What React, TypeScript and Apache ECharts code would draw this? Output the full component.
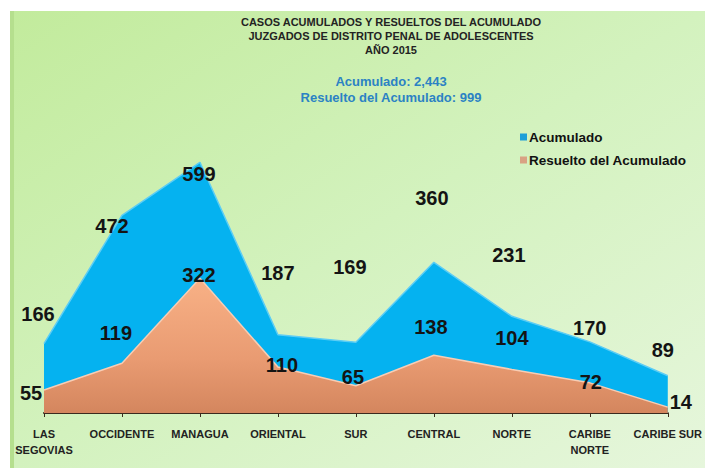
import React, { useEffect, useRef } from "react";
import * as echarts from "echarts";

const categories = [
  "LAS\nSEGOVIAS",
  "OCCIDENTE",
  "MANAGUA",
  "ORIENTAL",
  "SUR",
  "CENTRAL",
  "NORTE",
  "CARIBE\nNORTE",
  "CARIBE SUR",
];
const acumulado = [166, 472, 599, 187, 169, 360, 231, 170, 89];
const resuelto = [55, 119, 322, 110, 65, 138, 104, 72, 14];

const titleLines = [
  "CASOS ACUMULADOS Y RESUELTOS DEL ACUMULADO",
  "JUZGADOS DE DISTRITO PENAL DE ADOLESCENTES",
  "AÑO 2015",
];
const subtitleLines = ["Acumulado: 2,443", "Resuelto del Acumulado: 999"];

// label offsets (styling, in px) for the manually placed data labels
const acuLabelOffsets = [
  [-6, -30], [-10, 11], [-1, 12], [0, -62], [-6, -75], [-2, -64], [-3, -61], [0, -14], [-5, -26],
];
const resLabelOffsets = [
  [-13, 3], [-6, -30], [-1, -3], [4, -2], [-3, -9], [-3, -28], [0, -31], [1, -1], [13, -5],
];

const FONT = '"Liberation Sans", Arial, sans-serif';

export default function App() {
  const ref = useRef<HTMLDivElement>(null);
  useEffect(() => {
    if (!ref.current) return;
    const chart = echarts.init(ref.current, undefined, { renderer: "svg" });
    const labelBase = {
      show: true,
      position: "inside",
      fontFamily: FONT,
      fontWeight: "bold",
      fontSize: 20,
      color: "#141414",
    };
    chart.setOption({
      animation: false,
      backgroundColor: "#ffffff",
      graphic: {
        elements: [
          {
            type: "rect",
            z: -10,
            silent: true,
            shape: { x: 10, y: 11, width: 695, height: 457 },
            style: {
              fill: new echarts.graphic.LinearGradient(0, 0, 1, 1, [
                { offset: 0, color: "#c2eb9c" },
                { offset: 0.5, color: "#d3f2be" },
                { offset: 1, color: "#e6f6dc" },
              ]),
            },
          },
          {
            type: "rect",
            z: -9,
            silent: true,
            shape: { x: 10, y: 11, width: 4, height: 457 },
            style: { fill: "#b5df8e" },
          },
        ],
      },
      title: {
        text: titleLines.join("\n"),
        subtext: subtitleLines.join("\n"),
        left: 386,
        top: 10,
        textAlign: "center",
        itemGap: 16,
        textStyle: {
          fontFamily: FONT,
          fontWeight: "bold",
          fontSize: 11,
          lineHeight: 14,
          color: "#232323",
        },
        subtextStyle: {
          fontFamily: FONT,
          fontWeight: "bold",
          fontSize: 13,
          lineHeight: 16,
          color: "#2b82c4",
        },
      },
      legend: {
        orient: "vertical",
        left: 515,
        top: 125,
        itemWidth: 7,
        itemHeight: 7,
        itemGap: 9,
        icon: "rect",
        selectedMode: false,
        textStyle: {
          fontFamily: FONT,
          fontWeight: "bold",
          fontSize: 13.5,
          color: "#111",
          padding: [0, 0, 0, -3],
        },
        data: [
          { name: "Acumulado", itemStyle: { color: "#1c9fd8" } },
          { name: "Resuelto del Acumulado", itemStyle: { color: "#d9a283" } },
        ],
      },
      grid: { left: 44, right: 25, top: 120, bottom: 55 },
      xAxis: {
        type: "category",
        boundaryGap: false,
        data: categories,
        axisLine: { lineStyle: { color: "#3a2a1e", width: 2 } },
        axisTick: { show: true, length: 4, lineStyle: { color: "#3a2a1e", width: 1 } },
        axisLabel: {
          interval: 0,
          margin: 13,
          fontFamily: FONT,
          fontWeight: "bold",
          fontSize: 11,
          lineHeight: 16,
          color: "#222",
        },
      },
      yAxis: {
        type: "value",
        min: 0,
        max: 700,
        show: false,
        splitLine: { show: false },
      },
      series: [
        {
          name: "Acumulado",
          type: "line",
          symbol: "circle",
          symbolSize: 2,
          itemStyle: { color: "rgba(0,0,0,0)" },
          lineStyle: { color: "#5ccdf5", width: 1.5 },
          areaStyle: { color: "#05b2f0", opacity: 1 },
          label: labelBase,
          emphasis: { disabled: true },
          silent: true,
          z: 2,
          data: acumulado.map((v, i) => ({ value: v, label: { offset: acuLabelOffsets[i] } })),
        },
        {
          name: "Resuelto del Acumulado",
          type: "line",
          symbol: "circle",
          symbolSize: 2,
          itemStyle: { color: "rgba(0,0,0,0)" },
          lineStyle: { color: "#f8cdb4", width: 1.5 },
          areaStyle: {
            opacity: 1,
            color: new echarts.graphic.LinearGradient(0, 0, 0, 1, [
              { offset: 0, color: "#f8b186" },
              { offset: 0.6, color: "#e99b72" },
              { offset: 1, color: "#d4865e" },
            ]),
          },
          label: labelBase,
          emphasis: { disabled: true },
          silent: true,
          z: 3,
          data: resuelto.map((v, i) => ({ value: v, label: { offset: resLabelOffsets[i] } })),
        },
      ],
    });
    return () => chart.dispose();
  }, []);
  return (
    <div
      ref={ref}
      style={{ width: 705, height: 468, position: "absolute", left: 0, top: 0 }}
    />
  );
}
